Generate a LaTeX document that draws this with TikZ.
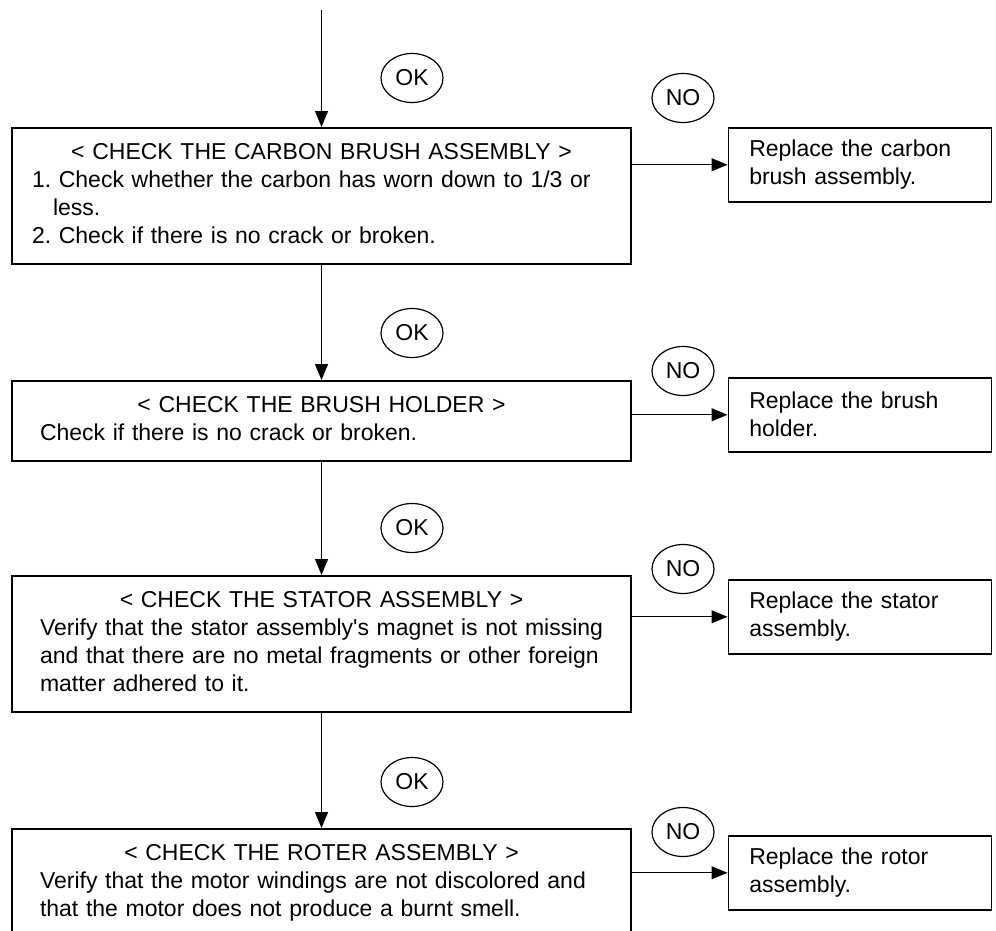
\documentclass[tikz,border=0pt]{standalone}
\usepackage{fontspec}
\setmainfont{Liberation Sans}
\usetikzlibrary{shapes.geometric,arrows.meta}
\frenchspacing
\tikzset{
  checkbox/.style={draw, line width=1.5pt, anchor=north, text width=579pt,
    inner xsep=20pt, inner ysep=12pt, align=left,
    execute at begin node={\hyphenpenalty=10000\strut}, execute at end node=\strut},
  fixbox/.style={draw, line width=1.5pt, anchor=north west, text width=221pt,
    inner xsep=21pt, minimum height=74pt, align=left},
  tag/.style={draw, ellipse, minimum width=62pt, minimum height=49pt, inner sep=0pt}
}
\newcommand{\boxtitle}[1]{\makebox[\linewidth][c]{#1}}
\begin{document}
\begin{tikzpicture}[x=1pt, y=-1pt, line width=1.2pt,
    font=\fontsize{23}{28}\selectfont, >={Triangle[length=16pt,width=13pt]}]
      \useasboundingbox (0,0) rectangle (996,930);
      \clip (0,0) rectangle (996,930);
      \coordinate (in) at (321.5,10);
      \node[checkbox] (c1) at (321.5,127) {\boxtitle{< CHECK THE CARBON BRUSH ASSEMBLY >}\\
        1. Check whether the carbon has worn down to 1/3 or\\
        \hspace*{21pt}less.\\
        2. Check if there is no crack or broken.};
      \node[checkbox] (c2) at (321.5,380) {\boxtitle{< CHECK THE BRUSH HOLDER >}\\
        \hspace*{8pt}Check if there is no crack or broken.};
      \node[checkbox] (c3) at (321.5,575) {\boxtitle{< CHECK THE STATOR ASSEMBLY >}\\
        \hspace*{8pt}Verify that the stator assembly\textquotesingle s magnet is not missing\\
        \hspace*{8pt}and that there are no metal fragments or other foreign\\
        \hspace*{8pt}matter adhered to it.};
      \node[checkbox] (c4) at (321.5,828) {\boxtitle{< CHECK THE ROTER ASSEMBLY >}\\
        \hspace*{8pt}Verify that the motor windings are not discolored and\\
        \hspace*{8pt}that the motor does not produce a burnt smell.};
      \node[fixbox] (f1) at (727.5,127) {Replace the carbon\\brush assembly.};
      \node[fixbox] (f2) at (727.5,377) {Replace the brush\\holder.};
      \node[fixbox] (f3) at (727.5,579) {Replace the stator\\assembly.};
      \node[fixbox] (f4) at (727.5,835) {Replace the rotor\\assembly.};
      \node[tag] (ok1) at (412,78) {OK};
      \node[tag] (ok2) at (412,333) {OK};
      \node[tag] (ok3) at (412,528) {OK};
      \node[tag] (ok4) at (412,782) {OK};
      \node[tag] (no1) at (683,98) {NO};
      \node[tag] (no2) at (683,371) {NO};
      \node[tag] (no3) at (683,569) {NO};
      \node[tag] (no4) at (683,832) {NO};
      \draw [->] (in) -- (c1);
      \draw [->] (c1) -- (c2);
      \draw [->] (c2) -- (c3);
      \draw [->] (c3) -- (c4);
      \draw [->] (c1.east |- f1) -- (f1);
      \draw [->] (c2.east |- f2) -- (f2);
      \draw [->] (c3.east |- f3) -- (f3);
      \draw [->] (c4.east |- f4) -- (f4);
    \end{tikzpicture}
\end{document}
